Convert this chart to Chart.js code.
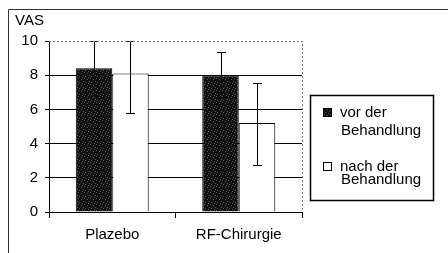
<!DOCTYPE html>
<html>
<head>
<meta charset="utf-8">
<script src="https://cdn.jsdelivr.net/npm/chart.js@4/dist/chart.umd.min.js"></script>
<style>
html,body{margin:0;padding:0;background:#fff;}
#wrap{width:448px;height:253px;position:relative;}
</style>
</head>
<body>
<div id="wrap"><canvas id="c" width="448" height="253"></canvas></div>
<script>
// ---- data ----
const categories = ['Plazebo', 'RF-Chirurgie'];
const seriesNames = [['vor der', 'Behandlung'], ['nach der', 'Behandlung']];
const vorValues = [8.4, 8.0];
const nachValues = [8.1, 5.2];
const vorErrLow = [6.8, 6.7];
const vorErrHigh = [10.0, 9.35];
const nachErrLow = [5.8, 2.75];
const nachErrHigh = [10.0, 7.55];
const yTicks = [0, 2, 4, 6, 8, 10];
const yTitle = 'VAS';

// ---- stipple pattern for dark bars ----
function makePattern() {
  const p = document.createElement('canvas');
  p.width = 6; p.height = 6;
  const g = p.getContext('2d');
  g.fillStyle = '#111';
  g.fillRect(0, 0, 6, 6);
  g.fillStyle = '#5a5a5a';
  const dots = [[0,0],[3,1],[5,3],[1,4],[4,5]];
  dots.forEach(d => g.fillRect(d[0], d[1], 1, 1));
  return g.createPattern(p, 'repeat');
}
const darkFill = makePattern();

const FONT = "'Liberation Sans', Arial, sans-serif";
const FS = 15;

const errorBars = {
  id: 'errorBars',
  afterDatasetsDraw(chart) {
    const ctx = chart.ctx;
    const y = chart.scales.y;
    const area = chart.chartArea;
    const sets = [[vorErrLow, vorErrHigh, '#111'], [nachErrLow, nachErrHigh, '#000']];
    ctx.save();
    ctx.beginPath();
    ctx.rect(area.left, area.top - 1, area.right - area.left, area.bottom - area.top + 2);
    ctx.clip();
    sets.forEach((s, di) => {
      const meta = chart.getDatasetMeta(di);
      meta.data.forEach((bar, i) => {
        const x = Math.round(bar.x) + 0.5;
        const ym = Math.round(bar.y) + 0.5;
        const yl = Math.round(y.getPixelForValue(s[0][i])) + 0.5;
        const yh = Math.round(y.getPixelForValue(s[1][i])) + 0.5;
        ctx.lineWidth = 1;
        // lower half (inside the bar)
        ctx.strokeStyle = s[2];
        ctx.beginPath();
        ctx.moveTo(x, ym); ctx.lineTo(x, yl);
        ctx.moveTo(x - 4.5, yl); ctx.lineTo(x + 4.5, yl);
        ctx.stroke();
        // upper half
        ctx.strokeStyle = '#000';
        ctx.beginPath();
        ctx.moveTo(x, ym); ctx.lineTo(x, yh);
        ctx.moveTo(x - 4.5, yh); ctx.lineTo(x + 4.5, yh);
        ctx.stroke();
      });
    });
    ctx.restore();
  }
};

const decor = {
  id: 'decor',
  beforeDraw(chart) {
    const ctx = chart.ctx;
    ctx.save();
    ctx.fillStyle = '#fff';
    ctx.fillRect(0, 0, chart.width, chart.height);
    ctx.restore();
  },
  afterDraw(chart) {
    const ctx = chart.ctx;
    const a = chart.chartArea;
    ctx.save();
    // outer frame
    ctx.strokeStyle = '#333';
    ctx.lineWidth = 1;
    ctx.beginPath();
    ctx.moveTo(8.5, 253); ctx.lineTo(8.5, 9.5); ctx.lineTo(448, 9.5);
    ctx.stroke();
    // plot area dotted border (top & right)
    ctx.strokeStyle = '#777';
    ctx.setLineDash([2, 2]);
    ctx.beginPath();
    ctx.moveTo(a.left, Math.round(a.top) + 0.5);
    ctx.lineTo(Math.round(a.right) + 0.5, Math.round(a.top) + 0.5);
    ctx.lineTo(Math.round(a.right) + 0.5, a.bottom);
    ctx.stroke();
    ctx.setLineDash([]);
    // y title
    ctx.fillStyle = '#000';
    ctx.font = FS + 'px ' + FONT;
    ctx.textAlign = 'left';
    ctx.textBaseline = 'middle';
    ctx.fillText(yTitle, 15, 21);
    // legend
    ctx.strokeStyle = '#000';
    ctx.lineWidth = 1.5;
    ctx.strokeRect(310.5, 95.5, 123, 105);
    const fills = [darkFill, '#fff'];
    const rows = [[113, 131], [167, 180]];
    seriesNames.forEach((lines, i) => {
      ctx.fillStyle = fills[i];
      ctx.fillRect(323, rows[i][0] - 5, 9, 9);
      ctx.strokeStyle = '#000';
      ctx.lineWidth = 1;
      ctx.strokeRect(323.5, rows[i][0] - 4.5, 8, 8);
      ctx.fillStyle = '#000';
      ctx.font = FS + 'px ' + FONT;
      ctx.textBaseline = 'middle';
      ctx.fillText(lines[0], 340, rows[i][0]);
      ctx.fillText(lines[1], 341, rows[i][1]);
    });
    ctx.restore();
  }
};

new Chart(document.getElementById('c'), {
  type: 'bar',
  data: {
    labels: categories,
    datasets: [
      { label: seriesNames[0].join(' '), data: vorValues, backgroundColor: darkFill, borderColor: '#000', borderWidth: 1 },
      { label: seriesNames[1].join(' '), data: nachValues, backgroundColor: '#fff', borderColor: '#000', borderWidth: 1 }
    ]
  },
  options: {
    responsive: false,
    animation: false,
    devicePixelRatio: 1,
    layout: { padding: { left: 0, top: 41, right: 146, bottom: 0 } },
    datasets: { bar: { categoryPercentage: 0.577, barPercentage: 1.0 } },
    plugins: { legend: { display: false }, tooltip: { enabled: false }, title: { display: false } },
    scales: {
      x: {
        afterFit(s) { s.height = 41; },
        grid: { offset: true, drawOnChartArea: false, color: '#000', tickColor: '#000', tickLength: 6 },
        border: { color: '#000', width: 1 },
        ticks: { color: '#000', font: { family: FONT, size: FS }, padding: 8 }
      },
      y: {
        min: 0, max: 10,
        afterFit(s) { s.width = 49; },
        afterBuildTicks(s) { s.ticks = yTicks.map(v => ({ value: v })); },
        grid: {
          color: c => (c.tick && (c.tick.value === 10 || c.tick.value === 0)) ? 'rgba(0,0,0,0)' : '#000',
          tickColor: '#000', tickLength: 4, lineWidth: 1
        },
        border: { color: '#000', width: 1 },
        ticks: { color: '#000', font: { family: FONT, size: FS }, padding: 7 }
      }
    }
  },
  plugins: [decor, errorBars]
});
</script>
</body>
</html>
